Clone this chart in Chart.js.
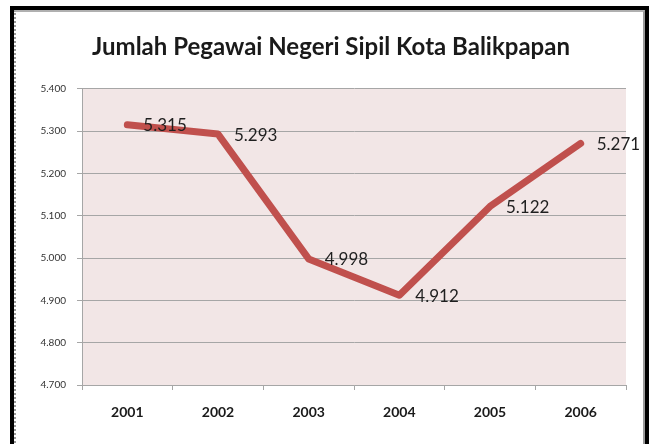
<!DOCTYPE html>
<html>
<head>
<meta charset="utf-8">
<script src="https://cdn.jsdelivr.net/npm/chart.js@4/dist/chart.umd.min.js"></script>
<style>
  html, body { margin: 0; padding: 0; background: #fff; }
  body { width: 649px; height: 444px; position: relative; overflow: hidden; }
  .frame {
    position: absolute; left: 10px; top: 6px; width: 631px; height: 460px;
    border-left: 4px solid #000; border-top: 4px solid #000; border-right: 4px solid #000;
  }
  .frame-inner {
    position: absolute; left: 0; top: 0; right: 0; bottom: 0;
    border-left: 2px dotted #9a9a9a; border-top: 2px solid #b0b0b0; border-right: 2px solid #9a9a9a;
  }
  #wrap { position: absolute; left: 0; top: 0; width: 649px; height: 444px; }
</style>
</head>
<body>
<div class="frame"><div class="frame-inner"></div></div>
<div id="wrap"><canvas id="chartPns"></canvas></div>
<script>
const tahun      = ['2001', '2002', '2003', '2004', '2005', '2006'];
const jumlah_pns = [5315, 5293, 4998, 4912, 5122, 5271];
const y_min = 4700, y_max = 5400, y_step = 100;

const fmt = v => String(v).replace(/\B(?=(\d{3})+(?!\d))/g, '.');

const chartEl = document.getElementById('chartPns');
const chart = new Chart(chartEl, {
    type: 'line',
    data: {
        labels: tahun,
        datasets: [{
            label: 'Jumlah PNS',
            data: jumlah_pns,
            borderColor: '#C0504D',
            borderWidth: 7,
            borderCapStyle: 'round',
            borderJoinStyle: 'round',
            pointRadius: 0,
            tension: 0,
            fill: false,
        }]
    },
    options: {
        responsive: true,
        maintainAspectRatio: false,
        animation: false,
        // left padding is only there to centre the title like the original
        layout: { padding: { top: 0, left: 36, right: 23, bottom: 0 } },
        plugins: {
            legend: { display: false },
            tooltip: { enabled: false },
            title: {
                display: true,
                text: 'Jumlah Pegawai Negeri Sipil Kota Balikpapan',
                color: '#1a1a1a',
                font: { family: 'Lato', size: 24, weight: 'bold' },
                padding: { top: 33, bottom: 27 }
            }
        },
        scales: {
            y: {
                min: y_min, max: y_max,
                ticks: { stepSize: y_step, callback: v => fmt(v), color: '#333', padding: 11,
                         font: { family: 'Lato', size: 10 } },
                grid: { color: '#a6a6a6', tickLength: 5 },
                border: { color: '#a6a6a6' },
                afterFit: s => { s.width = 46; }
            },
            x: {
                offset: true,
                ticks: { color: '#1a1a1a', padding: 14, font: { family: 'Lato', size: 14, weight: 'bold' } },
                grid: { offset: true, drawOnChartArea: false, color: '#a6a6a6', tickLength: 5 },
                border: { color: '#a6a6a6' },
                afterFit: s => { s.height = 59; }
            }
        }
    },
    plugins: [{
        id: 'plotBg',
        beforeDraw(chart) {
            const { ctx, chartArea: a } = chart;
            ctx.save();
            ctx.fillStyle = '#F2E6E6';
            ctx.fillRect(a.left, a.top, a.right - a.left, a.bottom - a.top);
            ctx.restore();
        }
    }, {
        id: 'valueLabels',
        afterDatasetsDraw(chart) {
            const { ctx, data } = chart;
            ctx.save();
            ctx.fillStyle = '#1f1f1f';
            ctx.font = '17px Lato';
            ctx.textAlign = 'left';
            ctx.textBaseline = 'middle';
            chart.getDatasetMeta(0).data.forEach((pt, i) => {
                ctx.fillText(fmt(data.datasets[0].data[i]), pt.x + 16, pt.y + 1);
            });
            ctx.restore();
        }
    }]
});
</script>
</body>
</html>
